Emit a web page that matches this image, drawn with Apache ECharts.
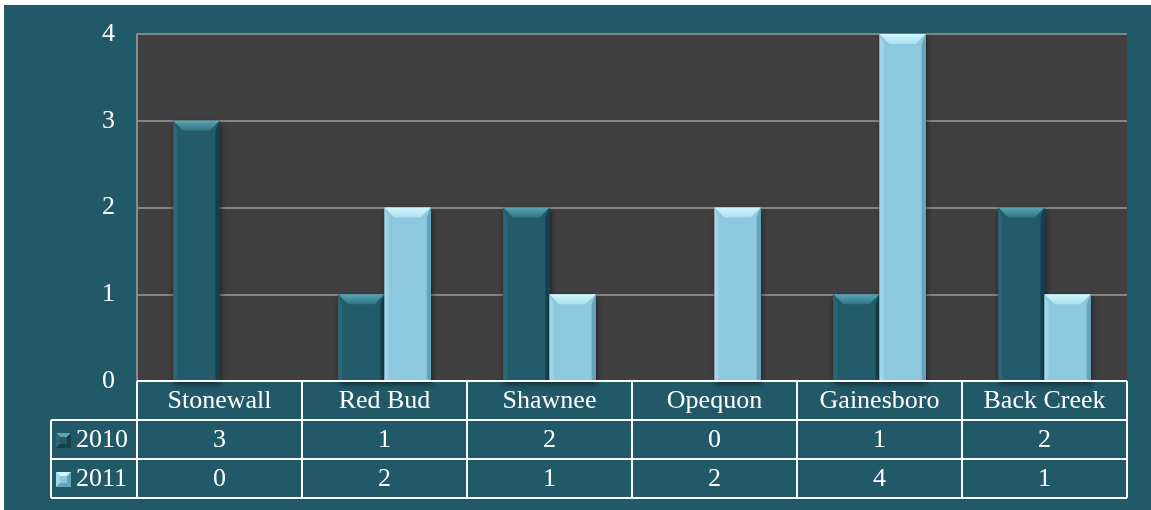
<!DOCTYPE html>
<html>
<head>
<meta charset="utf-8">
<script src="https://cdn.jsdelivr.net/npm/echarts@6/dist/echarts.min.js"></script>
<style>
html,body{margin:0;padding:0;background:#ffffff;width:1151px;height:510px;overflow:hidden;}
#chart{position:absolute;left:4px;top:5px;width:1147px;height:505px;}
</style>
</head>
<body>
<div id="chart"></div>
<script>
const categories = ['Stonewall', 'Red Bud', 'Shawnee', 'Opequon', 'Gainesboro', 'Back Creek'];
const seriesNames = ['2010', '2011'];
const values2010 = [3, 1, 2, 0, 1, 2];
const values2011 = [0, 2, 1, 2, 4, 1];
const yTicks = [0, 1, 2, 3, 4];

const FONT = "'Liberation Serif', serif";
const BG = '#215968';
const palettes = [
  {body: '#235b6a', edgeL: '#2a6878', edgeR: '#173f4a', top1: '#5ba5b6', top2: '#2f7484'},
  {body: '#8cc8de', edgeL: '#9fd6ea', edgeR: '#67a2b8', top1: '#d2f6fd', top2: '#a9e0f0'}
];

function renderBar(params, api) {
  const idx = api.value(0), v = api.value(1);
  if (!v) return null;
  const si = params.seriesIndex;
  const p = palettes[si];
  const band = api.size([1, 0])[0];
  const bw = band * 0.28;
  const top = api.coord([idx, v]);
  const base = api.coord([idx, 0]);
  const x0 = si === 0 ? top[0] - bw : top[0];
  const x1 = x0 + bw;
  const yt = top[1], yb = base[1];
  const bev = 10, side = 4;
  return {
    type: 'group',
    children: [
      {type: 'rect', shape: {x: x0, y: yt, width: bw, height: yb - yt},
        style: {fill: p.body, shadowColor: 'rgba(0,0,0,0.55)', shadowBlur: 6, shadowOffsetX: 1, shadowOffsetY: 3}},
      {type: 'polygon', shape: {points: [[x0, yt], [x0 + side, yt + bev], [x0 + side, yb - 2], [x0, yb]]},
        style: {fill: p.edgeL}},
      {type: 'polygon', shape: {points: [[x1, yt], [x1 - side, yt + bev], [x1 - side, yb - 2], [x1, yb]]},
        style: {fill: p.edgeR}},
      {type: 'polygon', shape: {points: [[x0, yt], [x1, yt], [x1 - bev, yt + bev], [x0 + bev, yt + bev]]},
        style: {fill: new echarts.graphic.LinearGradient(0, 0, 0, 1, [{offset: 0, color: p.top1}, {offset: 1, color: p.top2}])}}
    ]
  };
}

const chart = echarts.init(document.getElementById('chart'));
const option = {
  backgroundColor: BG,
  animation: false,
  grid: {left: 133, right: 24, top: 29, bottom: 129, show: true, backgroundColor: '#404040', borderWidth: 0},
  xAxis: {type: 'category', data: categories, axisLabel: {show: false}, axisTick: {show: false}, axisLine: {show: false}},
  yAxis: {
    type: 'value', min: 0, max: 4, interval: 1,
    axisLabel: {color: '#ffffff', fontFamily: 'Liberation Serif', fontSize: 26, margin: 22,
      formatter: function (v) { return yTicks.indexOf(v) >= 0 ? String(v) : ''; }},
    axisLine: {show: true, lineStyle: {color: '#8c8c8c', width: 2}},
    axisTick: {show: false},
    splitLine: {lineStyle: {color: '#858585', width: 2}}
  },
  series: [
    {name: seriesNames[0], type: 'custom', renderItem: renderBar, data: values2010.map((v, i) => [i, v]), z: 3},
    {name: seriesNames[1], type: 'custom', renderItem: renderBar, data: values2011.map((v, i) => [i, v]), z: 3}
  ]
};
chart.setOption(option);

function buildTable() {
  const g = [];
  const zero = chart.convertToPixel({yAxisIndex: 0}, 0);
  const c0 = chart.convertToPixel({xAxisIndex: 0}, 0);
  const c1 = chart.convertToPixel({xAxisIndex: 0}, 1);
  const colW = c1 - c0;
  const left = c0 - colW / 2;
  const right = left + colW * categories.length;
  const rowH = 39;
  const legL = 47;
  const yH = zero, y1 = zero + rowH, y2 = zero + 2 * rowH, y3 = zero + 3 * rowH;
  const line = (x1, yA, x2, yB) => g.push({type: 'line', shape: {x1: x1, y1: yA, x2: x2, y2: yB},
    style: {stroke: '#ffffff', lineWidth: 2}, z: 10});
  line(left, yH, right, yH);
  line(legL, y1, right, y1);
  line(legL, y2, right, y2);
  line(legL, y3, right, y3);
  line(legL, y1, legL, y3);
  for (let i = 0; i <= categories.length; i++) line(left + i * colW, yH, left + i * colW, y3);
  const txt = (s, x, y, align) => g.push({type: 'text', x: x, y: y, z: 11,
    style: {text: s, fill: '#ffffff', fontFamily: 'Liberation Serif', fontSize: 26,
      align: align || 'center', verticalAlign: 'middle'}});
  categories.forEach((c, i) => {
    const cx = chart.convertToPixel({xAxisIndex: 0}, i);
    txt(c, cx, yH + rowH / 2 + 1);
    txt(String(values2010[i]), cx, y1 + rowH / 2 + 1);
    txt(String(values2011[i]), cx, y2 + rowH / 2 + 1);
  });
  [y1, y2].forEach((yy, si) => {
    const p = palettes[si];
    const kx = 52, ky = yy + 13, ks = 15, b = 4;
    g.push({type: 'rect', shape: {x: kx, y: ky, width: ks, height: ks}, style: {fill: p.body}, z: 11});
    g.push({type: 'polygon', shape: {points: [[kx, ky], [kx + ks, ky], [kx + ks - b, ky + b], [kx + b, ky + b]]},
      style: {fill: p.top1}, z: 12});
    g.push({type: 'polygon', shape: {points: [[kx, ky], [kx + b, ky + b], [kx + b, ky + ks - b], [kx, ky + ks]]},
      style: {fill: p.edgeL}, z: 12});
    g.push({type: 'polygon', shape: {points: [[kx + ks, ky], [kx + ks, ky + ks], [kx + ks - b, ky + ks - b], [kx + ks - b, ky + b]]},
      style: {fill: p.edgeR}, z: 12});
    g.push({type: 'polygon', shape: {points: [[kx, ky + ks], [kx + ks, ky + ks], [kx + ks - b, ky + ks - b], [kx + b, ky + ks - b]]},
      style: {fill: p.edgeR}, z: 12});
    txt(seriesNames[si], 72, yy + rowH / 2 + 1, 'left');
  });
  chart.setOption({graphic: g});
}
buildTable();
</script>
</body>
</html>
